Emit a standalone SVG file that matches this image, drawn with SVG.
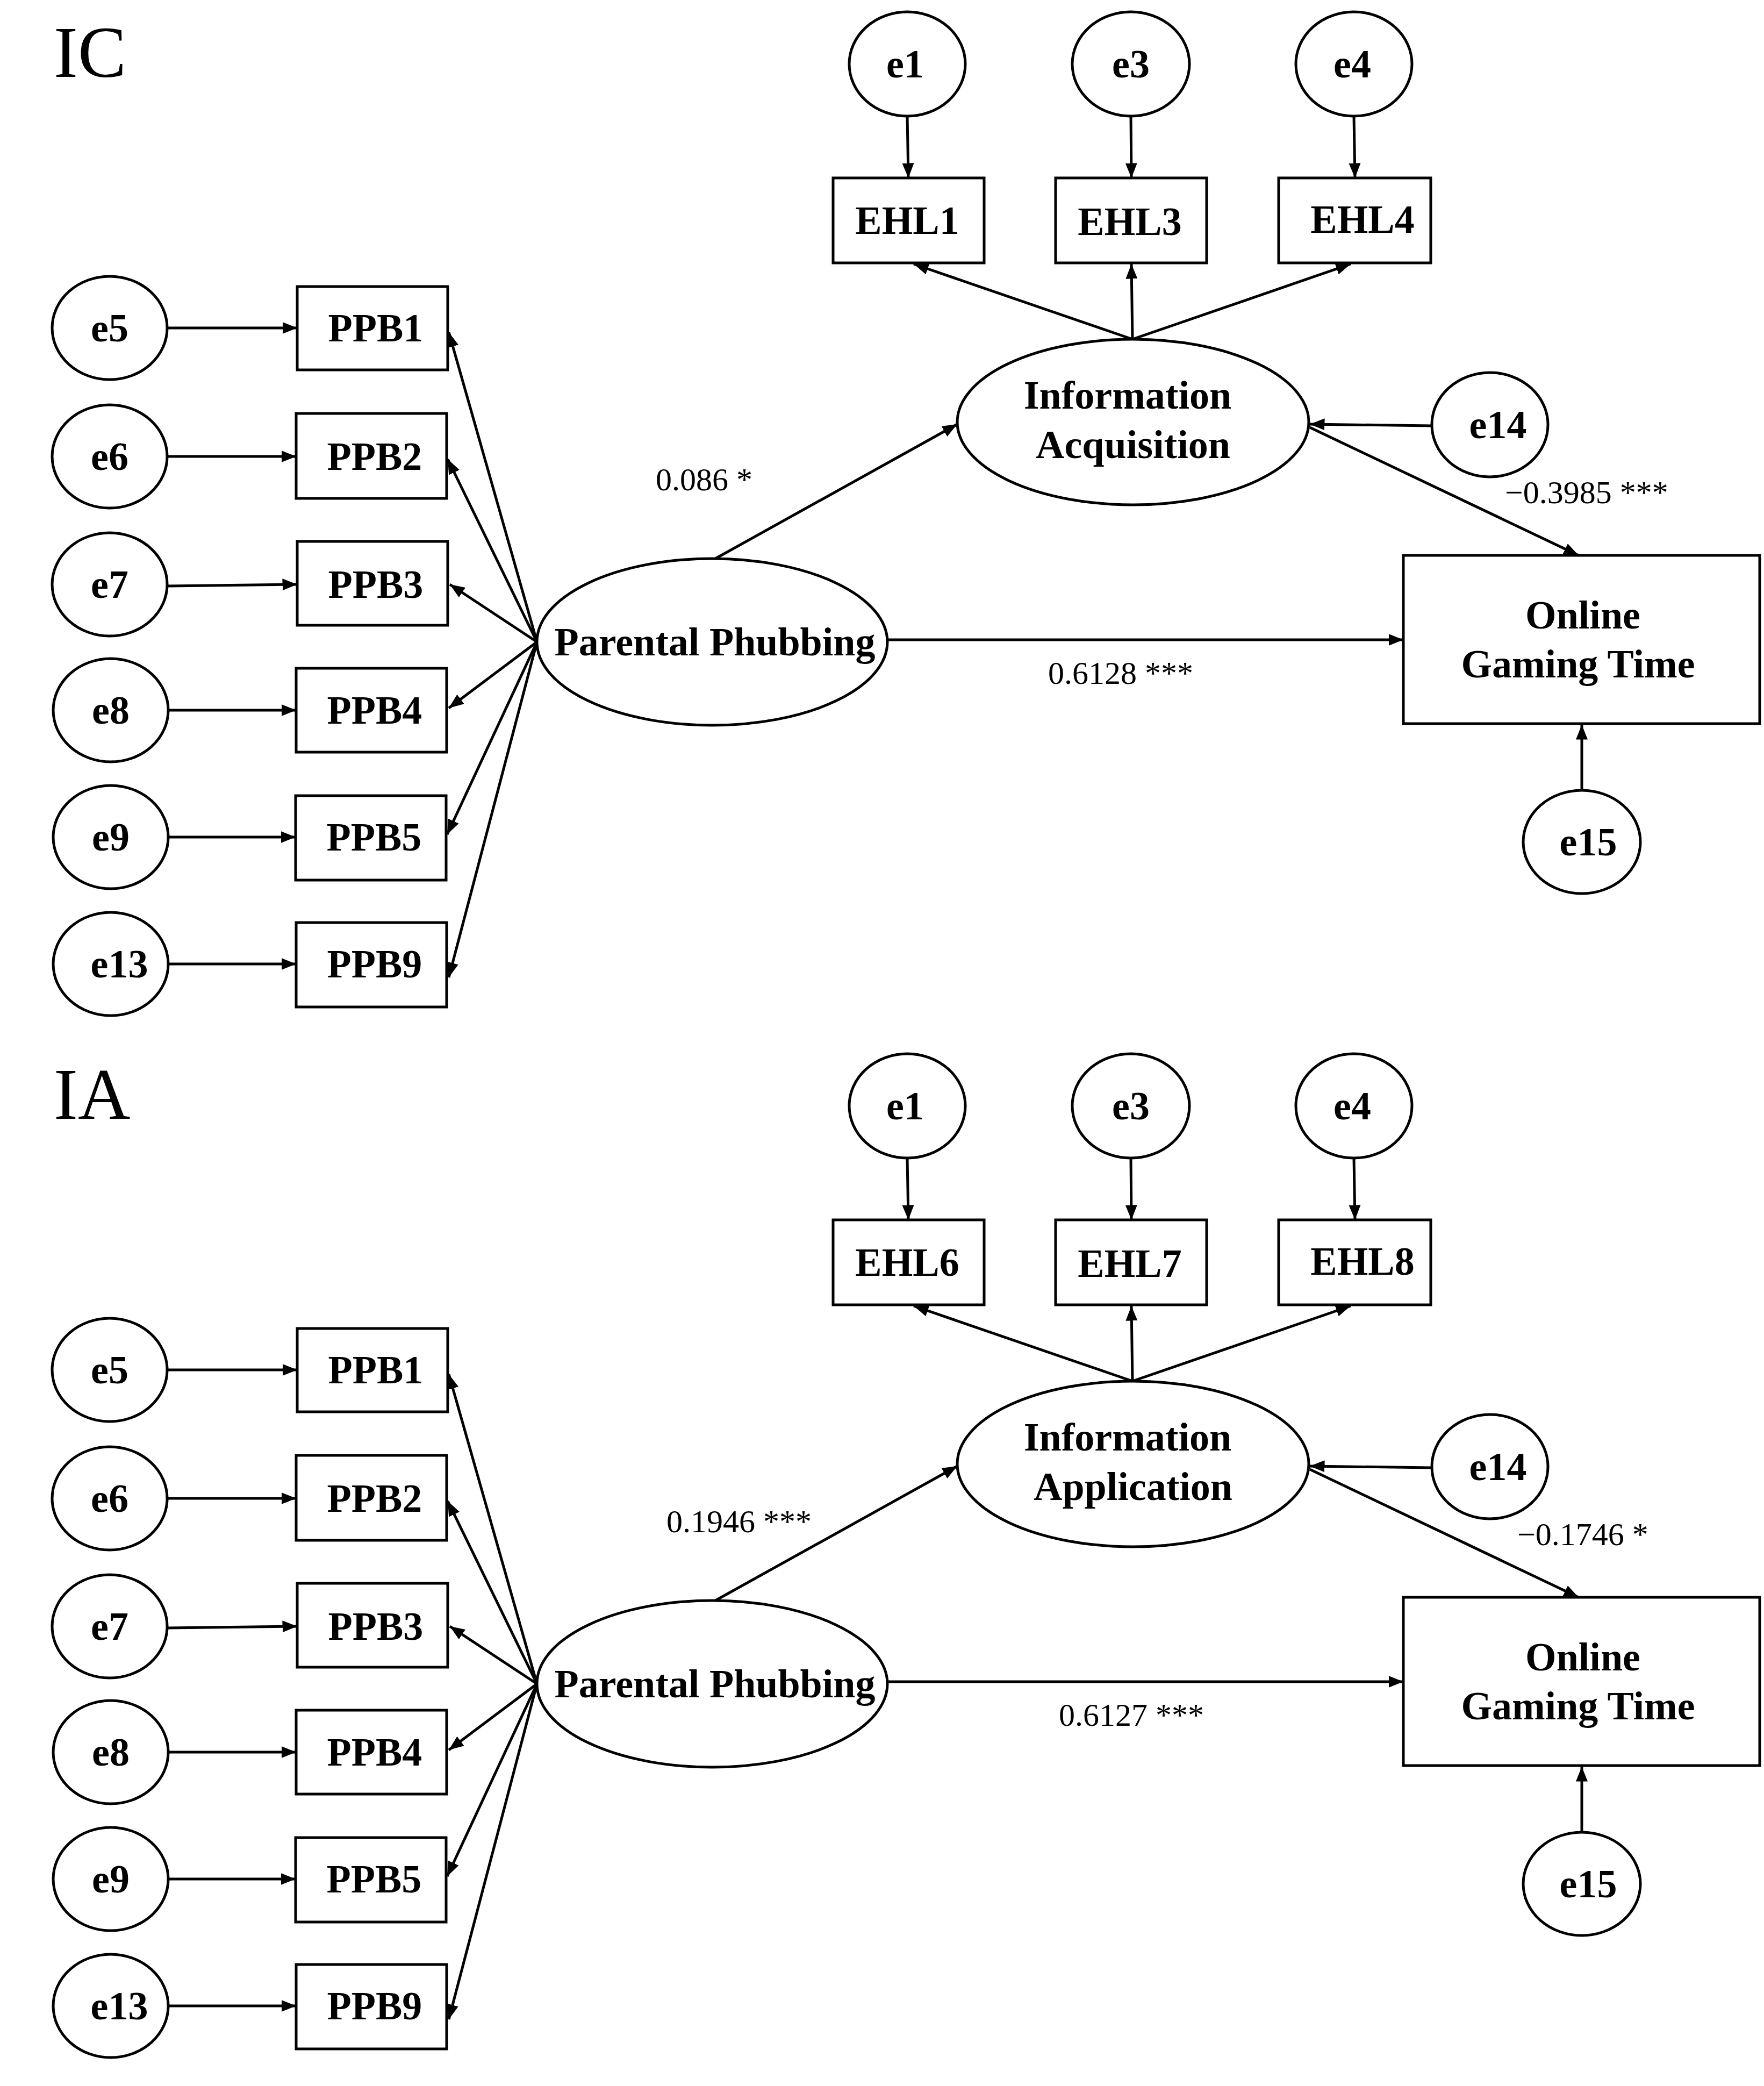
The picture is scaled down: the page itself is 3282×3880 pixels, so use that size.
<svg xmlns="http://www.w3.org/2000/svg" width="3282" height="3880" viewBox="0 0 3282 3880">
<style>
.s{fill:#fff;stroke:#000;stroke-width:5}
.t{font-family:"Liberation Serif",serif;font-weight:bold;font-size:74px;text-anchor:middle;fill:#000}
.n{font-family:"Liberation Serif",serif;font-size:60px;fill:#000}
.h{font-family:"Liberation Serif",serif;font-size:135px;fill:#000}
.c line{stroke:#000;stroke-width:5;marker-end:url(#a)}
</style>
<defs><marker id="a" viewBox="0 0 10 10" refX="10" refY="5" markerWidth="5.5" markerHeight="5.5" orient="auto" markerUnits="strokeWidth"><path d="M0,1 L10,5 L0,9 z" fill="#000"/></marker></defs>
<g id="panelIC">
<text class="h" x="100" y="143">IC</text>
<g class="c" id="ic-connectors">
<line x1="312" y1="610" x2="553" y2="610"/><line x1="312" y1="849" x2="551" y2="849"/><line x1="312" y1="1090" x2="553" y2="1087"/><line x1="312" y1="1321" x2="551" y2="1321"/><line x1="312" y1="1557" x2="550" y2="1557"/><line x1="312" y1="1793" x2="551" y2="1793"/>
<line x1="999" y1="1194" x2="835" y2="618"/><line x1="999" y1="1194" x2="833" y2="854"/><line x1="999" y1="1194" x2="837" y2="1087"/><line x1="999" y1="1194" x2="835" y2="1317"/><line x1="999" y1="1194" x2="832" y2="1552"/><line x1="999" y1="1194" x2="835" y2="1818"/>
<line x1="1688" y1="216" x2="1690" y2="331"/><line x1="2104" y1="216" x2="2105" y2="331"/><line x1="2519" y1="216" x2="2521" y2="331"/>
<line x1="2107" y1="631" x2="1700" y2="491"/><line x1="2107" y1="631" x2="2105" y2="491"/><line x1="2107" y1="631" x2="2513" y2="491"/>
<line x1="1331" y1="1039" x2="1781" y2="789"/><line x1="1650" y1="1190" x2="2611" y2="1190"/><line x1="2664" y1="792" x2="2437" y2="789"/>
<line x1="2437" y1="795" x2="2937" y2="1033"/><line x1="2943" y1="1470" x2="2943" y2="1348"/>
</g>
<g id="ic-e5"><ellipse class="s" cx="204" cy="610" rx="107" ry="96"/><text class="t" x="204" y="635">e5</text></g>
<g id="ic-e6"><ellipse class="s" cx="204" cy="849" rx="107" ry="96"/><text class="t" x="204" y="874">e6</text></g>
<g id="ic-e7"><ellipse class="s" cx="204" cy="1087" rx="107" ry="96"/><text class="t" x="204" y="1112">e7</text></g>
<g id="ic-e8"><ellipse class="s" cx="206" cy="1321" rx="107" ry="96"/><text class="t" x="206" y="1346">e8</text></g>
<g id="ic-e9"><ellipse class="s" cx="206" cy="1557" rx="107" ry="96"/><text class="t" x="206" y="1582">e9</text></g>
<g id="ic-e13"><ellipse class="s" cx="206" cy="1793" rx="107" ry="96"/><text class="t" x="222" y="1818">e13</text></g>
<g id="ic-ppb1"><rect class="s" x="553" y="533" width="280" height="155"/><text class="t" x="699" y="635">PPB1</text></g>
<g id="ic-ppb2"><rect class="s" x="551" y="769" width="280" height="158"/><text class="t" x="697" y="874">PPB2</text></g>
<g id="ic-ppb3"><rect class="s" x="553" y="1007" width="280" height="156"/><text class="t" x="699" y="1112">PPB3</text></g>
<g id="ic-ppb4"><rect class="s" x="551" y="1243" width="280" height="156"/><text class="t" x="697" y="1346">PPB4</text></g>
<g id="ic-ppb5"><rect class="s" x="550" y="1480" width="280" height="157"/><text class="t" x="696" y="1582">PPB5</text></g>
<g id="ic-ppb9"><rect class="s" x="551" y="1716" width="280" height="157"/><text class="t" x="697" y="1818">PPB9</text></g>
<g id="ic-pp"><ellipse class="s" cx="1325" cy="1194" rx="326" ry="155"/><text class="t" x="1330" y="1219">Parental Phubbing</text></g>
<g id="ic-e1"><ellipse class="s" cx="1688" cy="119" rx="108" ry="97"/><text class="t" x="1684" y="144">e1</text></g>
<g id="ic-e3"><ellipse class="s" cx="2104" cy="119" rx="109" ry="97"/><text class="t" x="2104" y="144">e3</text></g>
<g id="ic-e4"><ellipse class="s" cx="2519" cy="119" rx="108" ry="97"/><text class="t" x="2516" y="144">e4</text></g>
<g id="ic-ehl1"><rect class="s" x="1550" y="331" width="281" height="158"/><text class="t" x="1688" y="435">EHL1</text></g>
<g id="ic-ehl3"><rect class="s" x="1964" y="331" width="281" height="158"/><text class="t" x="2102" y="437">EHL3</text></g>
<g id="ic-ehl4"><rect class="s" x="2379" y="331" width="283" height="158"/><text class="t" x="2535" y="433">EHL4</text></g>
<g id="ic-ia"><ellipse class="s" cx="2108" cy="785" rx="327" ry="154"/><text class="t" x="2098" y="760">Information</text><text class="t" x="2108" y="852">Acquisition</text></g>
<g id="ic-e14"><ellipse class="s" cx="2772" cy="790" rx="108" ry="97"/><text class="t" x="2787" y="815">e14</text></g>
<g id="ic-ogt"><rect class="s" x="2611" y="1033" width="663" height="313"/><text class="t" x="2945" y="1169">Online</text><text class="t" x="2936" y="1260">Gaming Time</text></g>
<g id="ic-e15"><ellipse class="s" cx="2943" cy="1566" rx="109" ry="96"/><text class="t" x="2955" y="1591">e15</text></g>
<text class="n" x="1220" y="912">0.086 *</text>
<text class="n" x="2800" y="936">−0.3985 ***</text>
<text class="n" x="1950" y="1272">0.6128 ***</text>
</g>
<g id="panelIA" transform="translate(0,1938)">
<text class="h" x="100" y="143">IA</text>
<g class="c" id="ia-connectors">
<line x1="312" y1="610" x2="553" y2="610"/><line x1="312" y1="849" x2="551" y2="849"/><line x1="312" y1="1090" x2="553" y2="1087"/><line x1="312" y1="1321" x2="551" y2="1321"/><line x1="312" y1="1557" x2="550" y2="1557"/><line x1="312" y1="1793" x2="551" y2="1793"/>
<line x1="999" y1="1194" x2="835" y2="618"/><line x1="999" y1="1194" x2="833" y2="854"/><line x1="999" y1="1194" x2="837" y2="1087"/><line x1="999" y1="1194" x2="835" y2="1317"/><line x1="999" y1="1194" x2="832" y2="1552"/><line x1="999" y1="1194" x2="835" y2="1818"/>
<line x1="1688" y1="216" x2="1690" y2="331"/><line x1="2104" y1="216" x2="2105" y2="331"/><line x1="2519" y1="216" x2="2521" y2="331"/>
<line x1="2107" y1="631" x2="1700" y2="491"/><line x1="2107" y1="631" x2="2105" y2="491"/><line x1="2107" y1="631" x2="2513" y2="491"/>
<line x1="1331" y1="1039" x2="1781" y2="789"/><line x1="1650" y1="1190" x2="2611" y2="1190"/><line x1="2664" y1="792" x2="2437" y2="789"/>
<line x1="2437" y1="795" x2="2937" y2="1033"/><line x1="2943" y1="1470" x2="2943" y2="1348"/>
</g>
<g id="ia-e5"><ellipse class="s" cx="204" cy="610" rx="107" ry="96"/><text class="t" x="204" y="635">e5</text></g>
<g id="ia-e6"><ellipse class="s" cx="204" cy="849" rx="107" ry="96"/><text class="t" x="204" y="874">e6</text></g>
<g id="ia-e7"><ellipse class="s" cx="204" cy="1087" rx="107" ry="96"/><text class="t" x="204" y="1112">e7</text></g>
<g id="ia-e8"><ellipse class="s" cx="206" cy="1321" rx="107" ry="96"/><text class="t" x="206" y="1346">e8</text></g>
<g id="ia-e9"><ellipse class="s" cx="206" cy="1557" rx="107" ry="96"/><text class="t" x="206" y="1582">e9</text></g>
<g id="ia-e13"><ellipse class="s" cx="206" cy="1793" rx="107" ry="96"/><text class="t" x="222" y="1818">e13</text></g>
<g id="ia-ppb1"><rect class="s" x="553" y="533" width="280" height="155"/><text class="t" x="699" y="635">PPB1</text></g>
<g id="ia-ppb2"><rect class="s" x="551" y="769" width="280" height="158"/><text class="t" x="697" y="874">PPB2</text></g>
<g id="ia-ppb3"><rect class="s" x="553" y="1007" width="280" height="156"/><text class="t" x="699" y="1112">PPB3</text></g>
<g id="ia-ppb4"><rect class="s" x="551" y="1243" width="280" height="156"/><text class="t" x="697" y="1346">PPB4</text></g>
<g id="ia-ppb5"><rect class="s" x="550" y="1480" width="280" height="157"/><text class="t" x="696" y="1582">PPB5</text></g>
<g id="ia-ppb9"><rect class="s" x="551" y="1716" width="280" height="157"/><text class="t" x="697" y="1818">PPB9</text></g>
<g id="ia-pp"><ellipse class="s" cx="1325" cy="1194" rx="326" ry="155"/><text class="t" x="1330" y="1219">Parental Phubbing</text></g>
<g id="ia-e1"><ellipse class="s" cx="1688" cy="119" rx="108" ry="97"/><text class="t" x="1684" y="144">e1</text></g>
<g id="ia-e3"><ellipse class="s" cx="2104" cy="119" rx="109" ry="97"/><text class="t" x="2104" y="144">e3</text></g>
<g id="ia-e4"><ellipse class="s" cx="2519" cy="119" rx="108" ry="97"/><text class="t" x="2516" y="144">e4</text></g>
<g id="ia-ehl6"><rect class="s" x="1550" y="331" width="281" height="158"/><text class="t" x="1688" y="435">EHL6</text></g>
<g id="ia-ehl7"><rect class="s" x="1964" y="331" width="281" height="158"/><text class="t" x="2102" y="437">EHL7</text></g>
<g id="ia-ehl8"><rect class="s" x="2379" y="331" width="283" height="158"/><text class="t" x="2535" y="433">EHL8</text></g>
<g id="ia-ia"><ellipse class="s" cx="2108" cy="785" rx="327" ry="154"/><text class="t" x="2098" y="760">Information</text><text class="t" x="2108" y="852">Application</text></g>
<g id="ia-e14"><ellipse class="s" cx="2772" cy="790" rx="108" ry="97"/><text class="t" x="2787" y="815">e14</text></g>
<g id="ia-ogt"><rect class="s" x="2611" y="1033" width="663" height="313"/><text class="t" x="2945" y="1169">Online</text><text class="t" x="2936" y="1260">Gaming Time</text></g>
<g id="ia-e15"><ellipse class="s" cx="2943" cy="1566" rx="109" ry="96"/><text class="t" x="2955" y="1591">e15</text></g>
<text class="n" x="1240" y="912">0.1946 ***</text>
<text class="n" x="2823" y="936">−0.1746 *</text>
<text class="n" x="1970" y="1272">0.6127 ***</text>
</g>
</svg>
